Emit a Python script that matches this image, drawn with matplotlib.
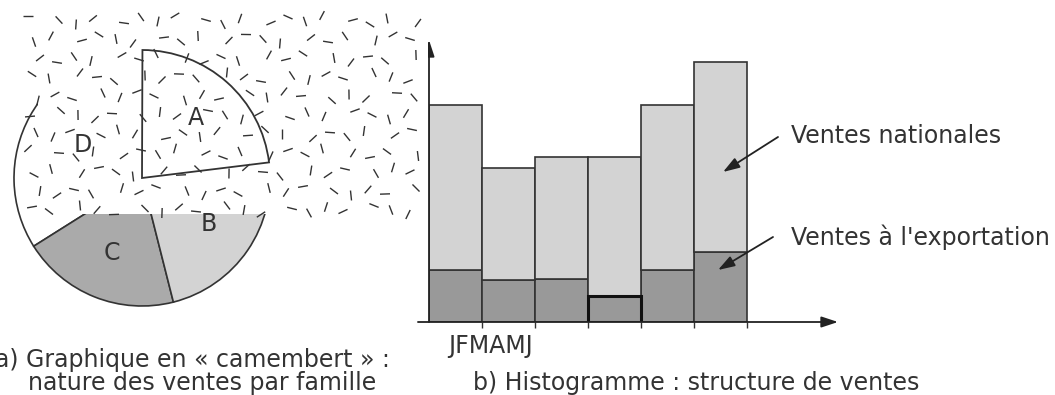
import numpy as np
import matplotlib
matplotlib.use("Agg")
import matplotlib.pyplot as plt
from matplotlib.collections import LineCollection

# a) pie : families, counter-clockwise from ~7 degrees
families = ["A", "D", "C", "B"]
family_share = [23, 34, 20, 23]
family_colors = ["white", "white", "#aaaaaa", "#d3d3d3"]

# b) stacked histogram, one bar per month
months = ["J", "F", "M", "A", "M", "J"]
export_sales = [5.2, 4.2, 4.3, 2.6, 5.2, 7.0]
national_sales = [16.5, 11.2, 12.2, 13.9, 16.5, 19.0]

W, H = 1055, 395
INK = "#333333"
FS = 17
fig = plt.figure(figsize=(W / 100, H / 100), dpi=100)

# ---- histogram
ax2 = fig.add_axes([429 / W, 73 / H, 409 / W, 282 / H])
x = np.arange(len(months))
exp_bars = ax2.bar(x, export_sales, width=1, align="edge", color="#999999",
                   edgecolor=INK, linewidth=1.2)
ax2.bar(x, national_sales, bottom=export_sales, width=1, align="edge",
        color="#d3d3d3", edgecolor=INK, linewidth=1.2)
exp_bars[3].set_linewidth(2.2)
exp_bars[3].set_edgecolor("#111111")
exp_bars[3].set_zorder(3)
ax2.set_xlim(0, 409 / 53)
ax2.set_ylim(0, 28.2)
for s in ax2.spines.values():
    s.set_visible(False)
ax2.set_xticks(np.arange(1, len(months) + 1))
ax2.set_xticklabels([])
ax2.tick_params(axis="x", direction="out", length=4, width=1, color=INK)
ax2.set_yticks([])
ax2.patch.set_visible(False)
head = "-|>,head_length=1.0,head_width=0.33"
ax2.annotate("", xy=(1, 0), xycoords="axes fraction", xytext=(-0.027, 0),
             arrowprops=dict(arrowstyle=head, color="#222222", lw=1.3,
                             mutation_scale=10, shrinkA=0, shrinkB=0))
ax2.annotate("", xy=(0, 1), xycoords="axes fraction", xytext=(0, 0),
             arrowprops=dict(arrowstyle=head, color="#222222", lw=1.3,
                             mutation_scale=10, shrinkA=0, shrinkB=0))

# ---- full-figure layer in pixel units (pie, texture, texts)
ax = fig.add_axes([0, 0, 1, 1])
ax.set_zorder(3)
ax.patch.set_visible(False)
pie_center, pie_r = (142, 217), 128
wedges, labels = ax.pie(family_share, labels=families, colors=family_colors,
                        startangle=7, counterclock=True, center=pie_center,
                        radius=pie_r, labeldistance=0.63,
                        wedgeprops=dict(edgecolor=INK, linewidth=1.2),
                        textprops=dict(fontsize=FS, color=INK))
for t in labels:
    t.set_zorder(6)
    t.set_ha("center")
    t.set_va("center")
# the D label sits a bit closer to the centre
mid = np.deg2rad((wedges[1].theta1 + wedges[1].theta2) / 2)
labels[1].set_position((pie_center[0] + 0.53 * pie_r * np.cos(mid),
                        pie_center[1] + 0.53 * pie_r * np.sin(mid)))

# white textured area over the top of the pie
ax.add_patch(plt.Rectangle((38, H - 214), 390, 200, facecolor="white",
                           edgecolor="none", zorder=2))
segs = []
for j, yy in enumerate(np.arange(20, 212, 19)):
    for i, xx in enumerate(np.arange(34, 418, 21)):
        ang = np.deg2rad((i * 47 + j * 71) % 180)
        cx = xx + ((i * 5 + j * 3) % 7 - 3) * 2
        cy = yy + ((i * 3 + j * 5) % 7 - 3) * 1.5
        dx, dy = 5 * np.cos(ang), 5 * np.sin(ang)
        segs.append([(cx - dx, H - cy + dy), (cx + dx, H - cy - dy)])
ax.add_collection(LineCollection(segs, colors=INK, linewidths=1.0, zorder=3))

# wedge A stays outlined above the texture
wedges[0].set_facecolor("none")
wedges[0].set_zorder(4)
wedges[0].set_linewidth(1.3)

ax.set_xlim(0, W)
ax.set_ylim(0, H)
ax.set_aspect("auto")
ax.set_axis_off()

# texts and arrows
ax.text(448, H - 353, "".join(months), fontsize=FS, color=INK, va="baseline")
ax.text(791, H - 143, "Ventes nationales", fontsize=FS, color=INK,
        va="baseline")
ax.text(791, H - 245, "Ventes \u00e0 l'exportation", fontsize=FS, color=INK,
        va="baseline")
ax.annotate("", xy=(723, H - 172), xytext=(778, H - 137),
            arrowprops=dict(arrowstyle=head, color="#222222", lw=1.3,
                            mutation_scale=10, shrinkA=0, shrinkB=0))
ax.annotate("", xy=(718, H - 270), xytext=(773, H - 237),
            arrowprops=dict(arrowstyle=head, color="#222222", lw=1.3,
                            mutation_scale=10, shrinkA=0, shrinkB=0))
ax.text(-5, H - 367, "a) Graphique en \u00ab\u00a0camembert\u00a0\u00bb :",
        fontsize=FS, color=INK, va="baseline")
ax.text(28, H - 390, "nature des ventes par famille", fontsize=FS, color=INK,
        va="baseline")
ax.text(473, H - 390, "b) Histogramme : structure de ventes", fontsize=FS,
        color=INK, va="baseline")

fig.savefig("out.png", dpi=100)
